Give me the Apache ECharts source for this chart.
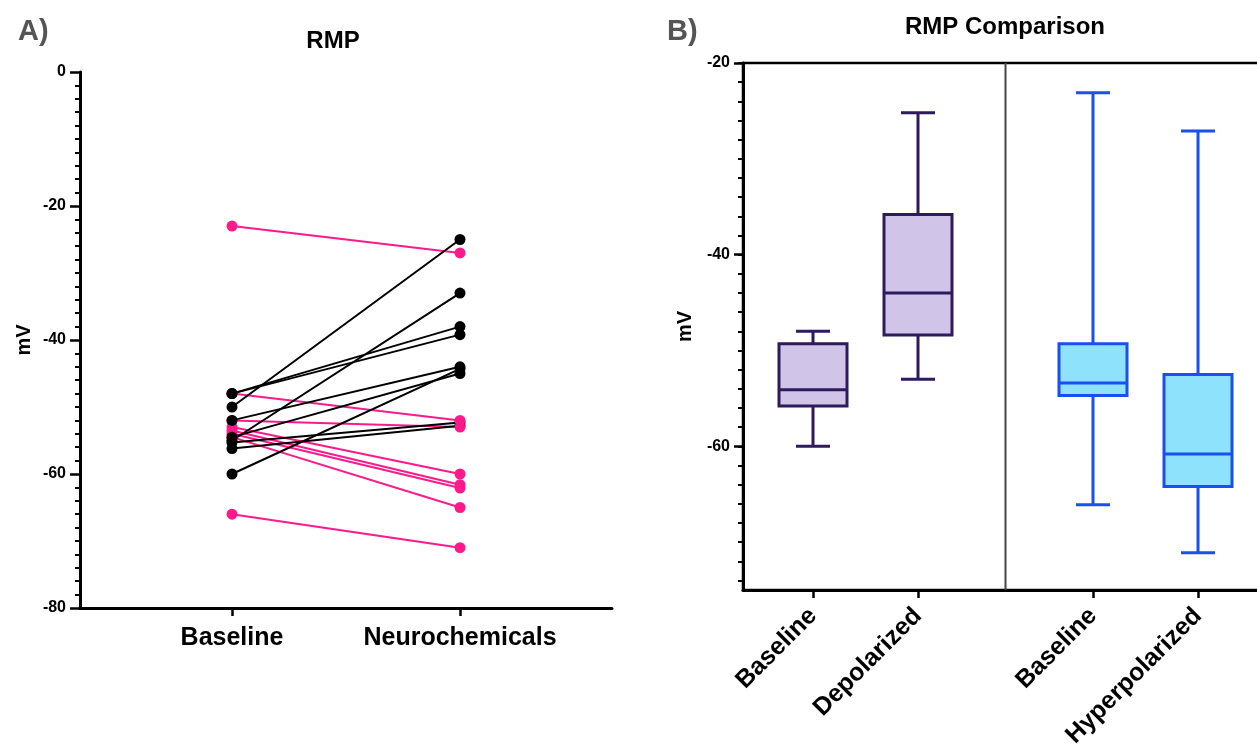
<!DOCTYPE html>
<html><head><meta charset="utf-8">
<script src="https://cdn.jsdelivr.net/npm/echarts@6/dist/echarts.min.js"></script>
<style>html,body{margin:0;padding:0;background:#fff}#c{width:1257px;height:744px}</style>
</head><body><div id="c"></div>
<script>
// ---------------- DATA ----------------
// Panel A: paired RMP values (mV)
const conditionsA = ['Baseline', 'Neurochemicals'];
const blackBaseline = [-48, -48, -50, -52, -54.5, -55, -55.3, -56.2, -60];
const blackNeuro    = [-38, -39.2, -25, -44, -45, -33, -52.3, -52.8, -44.3];
const pinkBaseline  = [-23, -48, -52, -53, -53.5, -54, -54.5, -66];
const pinkNeuro     = [-27, -52, -53, -60, -61.6, -62.1, -65, -71];
const yTicksA = [0, -20, -40, -60, -80];

// Panel B: box summaries (mV)
const groupsB = ['Baseline', 'Depolarized', 'Baseline', 'Hyperpolarized'];
const boxMin = [-60.0, -53.0, -66.1, -71.1];
const boxQ1  = [-55.8, -48.4, -54.7, -64.2];
const boxMed = [-54.1, -44.0, -53.4, -60.8];
const boxQ3  = [-49.3, -35.8, -49.3, -52.5];
const boxMax = [-48.0, -25.2, -23.1, -27.1];
const yTicksB = [-20, -40, -60];

// ---------------- LAYOUT / STYLE ----------------
const FONT = 'Liberation Sans, Arial, Helvetica, sans-serif';
const PINK = '#ff1a8c';
const BLACK = '#000000';
const SLOT_OF_GROUP = [2, 5, 10, 13];   // category slots along panel B axis
const N_SLOTS = 16;
const SEPARATOR_AFTER_SLOT = 7;
const BOX_STYLES = [
  {fill: '#d0c5e8', stroke: '#2f1a5c'},
  {fill: '#d0c5e8', stroke: '#2f1a5c'},
  {fill: '#8ee2fc', stroke: '#1a4ff0'},
  {fill: '#8ee2fc', stroke: '#1a4ff0'}
];
const BOX_HALF = 34, CAP_HALF = 17;

const slotsB = [];
for (let i = 0; i < N_SLOTS; i++) slotsB.push('');
SLOT_OF_GROUP.forEach((s, i) => { slotsB[s] = groupsB[i]; });

const minorB = [];
for (let v = -20; v >= -74; v -= 2) minorB.push(v);

const chart = echarts.init(document.getElementById('c'), null, {renderer: 'canvas'});

const series = [];
// pink lines then black lines (grid 0)
pinkBaseline.forEach((b, i) => {
  series.push({type: 'line', xAxisIndex: 0, yAxisIndex: 0, symbol: 'none', z: 2,
    data: [[1, b], [2, pinkNeuro[i]]], lineStyle: {color: PINK, width: 2}, silent: true, animation: false});
});
blackBaseline.forEach((b, i) => {
  series.push({type: 'line', xAxisIndex: 0, yAxisIndex: 0, symbol: 'none', z: 3,
    data: [[1, b], [2, blackNeuro[i]]], lineStyle: {color: BLACK, width: 2}, silent: true, animation: false});
});
const dot = (vals, x, color, z) => ({type: 'scatter', xAxisIndex: 0, yAxisIndex: 0, z: z,
  symbol: 'circle', symbolSize: 11, itemStyle: {color: color, opacity: 1},
  data: vals.map(v => [x, v]), animation: false});
series.push(dot(pinkBaseline, 1, PINK, 4));
series.push(dot(blackBaseline, 1, BLACK, 5));
series.push(dot(blackNeuro, 2, BLACK, 6));
series.push(dot(pinkNeuro, 2, PINK, 7));

// Panel B boxes
series.push({
  type: 'custom', xAxisIndex: 1, yAxisIndex: 1, z: 5, animation: false,
  encode: {x: 0, y: [1, 2, 3, 4, 5]},
  data: groupsB.map((g, i) => [SLOT_OF_GROUP[i], boxMin[i], boxQ1[i], boxMed[i], boxQ3[i], boxMax[i]]),
  renderItem: function (params, api) {
    const x = api.value(0);
    const st = BOX_STYLES[params.dataIndex];
    const pMin = api.coord([x, api.value(1)]);
    const pQ1 = api.coord([x, api.value(2)]);
    const pMed = api.coord([x, api.value(3)]);
    const pQ3 = api.coord([x, api.value(4)]);
    const pMax = api.coord([x, api.value(5)]);
    const cx = pMed[0];
    const ls = {stroke: st.stroke, lineWidth: 3, fill: null};
    return {type: 'group', children: [
      {type: 'line', shape: {x1: cx, y1: pQ3[1], x2: cx, y2: pMax[1]}, style: ls},
      {type: 'line', shape: {x1: cx - CAP_HALF, y1: pMax[1], x2: cx + CAP_HALF, y2: pMax[1]}, style: ls},
      {type: 'line', shape: {x1: cx, y1: pQ1[1], x2: cx, y2: pMin[1]}, style: ls},
      {type: 'line', shape: {x1: cx - CAP_HALF, y1: pMin[1], x2: cx + CAP_HALF, y2: pMin[1]}, style: ls},
      {type: 'rect', shape: {x: cx - BOX_HALF, y: pQ3[1], width: 2 * BOX_HALF, height: pQ1[1] - pQ3[1]},
        style: {fill: st.fill, stroke: st.stroke, lineWidth: 3}},
      {type: 'line', shape: {x1: cx - BOX_HALF, y1: pMed[1], x2: cx + BOX_HALF, y2: pMed[1]}, style: ls}
    ]};
  }
});
// Panel B separator between groups
series.push({
  type: 'custom', xAxisIndex: 1, yAxisIndex: 1, z: 4, animation: false,
  data: [[SEPARATOR_AFTER_SLOT]],
  renderItem: function (params, api) {
    const a = api.coord([api.value(0), -20]);
    const b = api.coord([api.value(0) + 1, -75]);
    const x = (a[0] + b[0]) / 2;
    return {type: 'line', shape: {x1: x, y1: a[1], x2: x, y2: b[1]}, style: {stroke: '#444', lineWidth: 2}};
  }
});

const labelBold = (size) => ({fontFamily: FONT, fontWeight: 'bold', fontSize: size, color: '#000'});

chart.setOption({
  animation: false,
  backgroundColor: '#fff',
  title: [
    {text: 'A)', left: 18, top: 17, padding: 0, textStyle: {fontFamily: FONT, fontWeight: 'bold', fontSize: 29, color: '#555'}},
    {text: 'RMP', left: 333, top: 29, padding: 0, textAlign: 'center', textStyle: labelBold(24)},
    {text: 'B)', left: 667, top: 17, padding: 0, textStyle: {fontFamily: FONT, fontWeight: 'bold', fontSize: 29, color: '#555'}},
    {text: 'RMP Comparison', left: 1005, top: 15, padding: 0, textAlign: 'center', textStyle: labelBold(24)}
  ],
  grid: [
    {left: 80, top: 72, width: 532, height: 536, outerBoundsMode: 'none', containLabel: false},
    {left: 743, top: 63, width: 525, height: 527, outerBoundsMode: 'none', containLabel: false,
      show: true, borderColor: '#000', borderWidth: 2.5, backgroundColor: 'transparent'}
  ],
  xAxis: [
    {type: 'value', gridIndex: 0, min: 1 / 3, max: 8 / 3,
      axisLine: {onZero: false, lineStyle: {color: '#000', width: 3}},
      axisTick: {customValues: [1, 2], length: 8, lineStyle: {color: '#000', width: 2.5}},
      axisLabel: Object.assign({customValues: [1, 2], margin: 18, formatter: v => conditionsA[Math.round(v) - 1]}, labelBold(25)),
      splitLine: {show: false}},
    {type: 'category', gridIndex: 1, data: slotsB, boundaryGap: false,
      axisLine: {onZero: false, lineStyle: {color: '#000', width: 3}},
      axisTick: {interval: (i, v) => v !== '', length: 8, lineStyle: {color: '#000', width: 2.5}},
      axisLabel: Object.assign({interval: (i, v) => v !== '', rotate: 45, margin: 22}, labelBold(25)),
      splitLine: {show: false}}
  ],
  yAxis: [
    {type: 'value', gridIndex: 0, min: -80, max: 0, interval: 20,
      name: 'mV', nameLocation: 'middle', nameGap: 46, nameTextStyle: labelBold(20),
      axisLine: {show: true, onZero: false, lineStyle: {color: '#000', width: 3}},
      axisTick: {show: true, length: 10, lineStyle: {color: '#000', width: 2.5}},
      minorTick: {show: true, splitNumber: 10, length: 5, lineStyle: {color: '#000', width: 2}},
      axisLabel: Object.assign({margin: 14, customValues: yTicksA}, labelBold(16)),
      splitLine: {show: false}, minorSplitLine: {show: false}},
    {type: 'value', gridIndex: 1, min: -75, max: -20, position: 'left',
      name: 'mV', nameLocation: 'middle', nameGap: 48, nameTextStyle: labelBold(20),
      axisLine: {show: true, onZero: false, lineStyle: {color: '#000', width: 3}},
      axisTick: {show: true, customValues: yTicksB, length: 9, lineStyle: {color: '#000', width: 2.5}},
      axisLabel: Object.assign({margin: 13, customValues: yTicksB}, labelBold(16)),
      splitLine: {show: false}},
    {type: 'value', gridIndex: 1, min: -75, max: -20, position: 'left',
      axisLine: {show: false},
      axisTick: {show: true, customValues: minorB, length: 5, lineStyle: {color: '#000', width: 2}},
      axisLabel: {show: false}, splitLine: {show: false}}
  ],
  series: series
});
</script>
</body></html>
